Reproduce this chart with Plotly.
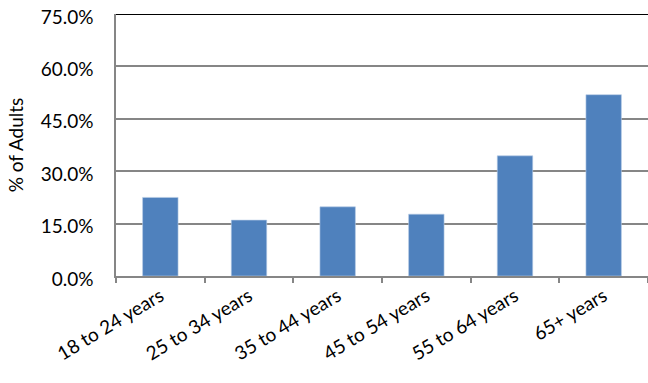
import plotly.graph_objects as go

age_groups = ['18 to 24 years', '25 to 34 years', '35 to 44 years',
              '45 to 54 years', '55 to 64 years', '65+ years']
pct_adults = [22.5, 16.0, 19.8, 17.7, 34.4, 51.9]
y_ticks = [0, 15, 30, 45, 60, 75]

fig = go.Figure(go.Bar(
    x=age_groups,
    y=pct_adults,
    marker=dict(color='#4F81BD', line=dict(color='#B9CDE5', width=0.6)),
))

fig.update_layout(
    width=648, height=383,
    margin=dict(l=116, r=0, t=14, b=107, autoexpand=False),
    plot_bgcolor='white', paper_bgcolor='white',
    bargap=0.6,
    showlegend=False,
    font={'family': 'Lato', 'size': 19, 'color': 'black'},
)

fig.update_yaxes(
    range=[0, 75], tickvals=y_ticks,
    ticktext=['%.1f%%' % v for v in y_ticks],
    tickfont=dict(size=19), ticklabeloverflow='allow', ticklabelshift=3,
    showgrid=True, gridcolor='#868686', gridwidth=1.5,
    showline=True, linecolor='#868686', linewidth=1.5,
    zeroline=False, ticks='', ticklabelstandoff=17, automargin=False,
    title=dict(text='% of Adults', standoff=12, font=dict(size=19)),
)
fig.update_xaxes(
    showgrid=False, showline=True, linecolor='#868686', linewidth=1.5,
    ticks='outside', tickson='boundaries', ticklen=5, tickcolor='#868686',
    tickwidth=1.5, tickangle=-31, tickfont=dict(size=19), automargin=False,
    ticklabeloverflow='allow',
)

# black line along the 75% top gridline
fig.add_shape(type='line', xref='paper', yref='y', x0=0, x1=1, y0=75, y1=75,
              line=dict(color='black', width=2))

# drop the default 8px page margin so the figure fills the window
fig.write_html("out.html", config={'displayModeBar': False},
               post_script="document.body.style.margin='0';")
